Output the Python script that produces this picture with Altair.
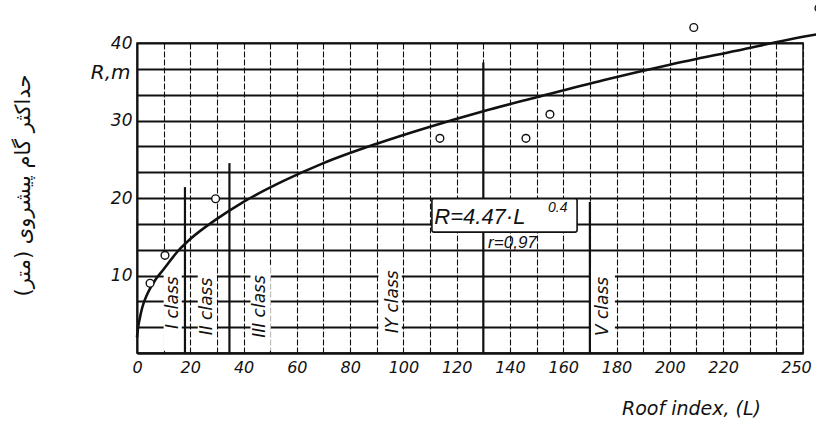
import altair as alt
import pandas as pd

# ---- data ----
curve_L = [0, 0.3, 1, 2, 4, 7, 10, 15, 20, 30, 40, 55, 70, 90, 110, 130, 150, 175, 200, 225, 250, 260]
curve_R = [2.0, 3.0, 4.4, 5.9, 7.7, 9.5, 10.8, 13.0, 14.7, 17.3, 19.5, 22.2, 24.5, 27.0, 29.2, 31.2, 33.0, 35.2, 37.2, 39.0, 40.8, 41.4]

obs_L = [4.9, 10.5, 29.5, 113.7, 146, 155, 209, 256]
obs_R = [9.0, 12.6, 19.9, 27.7, 27.7, 30.8, 42.0, 44.5]

class_line_L = [18, 34.7, 130, 170]
class_line_top = [21.4, 24.5, 37.5, 19.5]

class_names = ["I class", "II class", "III class", "IY class", "V class"]
class_label_L = [13.6, 26.3, 46.2, 96.0, 175.0]
class_label_R = [6.5, 6.0, 6.0, 6.6, 6.0]
class_gap_L1 = [10.0, 22.8, 42.6, 90.6, 170.4]
class_gap_L2 = [16.8, 30.0, 50.2, 99.4, 179.4]
class_gap_R2 = [12.2, 11.4, 11.4, 12.3, 11.0]

x_label_values = [0, 20, 40, 60, 80, 100, 120, 140, 160, 180, 200, 220, 250]
x_grid_values = list(range(0, 251, 10))
y_grid_values = [i * 10 / 3 for i in range(13)]

FONT = "DejaVu Sans"
INK = "#111111"
X_TITLE = "Roof index, (L)"
Y_TITLE = "حداکثر گام پیشروی (متر)"

xs = alt.Scale(domain=[0, 250], nice=False, zero=False)
ys = alt.Scale(domain=[0, 40], nice=False, zero=False)

label_list = "[" + ",".join(str(v) for v in x_label_values) + "]"

x_axis = alt.Axis(
    values=x_grid_values, grid=True, gridColor=INK, gridWidth=1.1, gridDash=[6, 2],
    ticks=False, domainColor=INK, domainWidth=2,
    labelExpr=f"indexof({label_list}, datum.value) >= 0 ? datum.label : ''",
    labelFont=FONT, labelFontStyle="italic", labelFontSize=16, labelColor=INK, labelPadding=6,
    labelOffset={"condition": {"test": "datum.value == 250", "value": -7}, "value": 0},
    labelFlush=False, labelOverlap=False,
    title=X_TITLE, titleFont=FONT, titleFontStyle="italic", titleFontWeight="normal",
    titleFontSize=19, titleColor=INK, titleX=554, titleY=55, titleAlign="center", titleBaseline="middle",
)
y_axis = alt.Axis(
    values=y_grid_values, grid=True, gridColor=INK, gridWidth=1.8,
    ticks=False, domainColor=INK, domainWidth=2,
    labelExpr="datum.value > 0 && abs(datum.value - 10*round(datum.value/10)) < 0.01 ? format(datum.value, '.0f') : ''",
    labelFont=FONT, labelFontStyle="italic", labelFontSize=17, labelColor=INK, labelPadding=5,
    labelFlush=False, labelOverlap=False,
    title=Y_TITLE, titleFont=FONT, titleFontWeight="normal", titleFontSize=21,
    titleColor=INK, titleX=-114, titleY=142, titleAngle=270, titleAlign="center", titleBaseline="middle",
)


def X(field):
    return alt.X(field, scale=xs, axis=x_axis, title=X_TITLE)


def Y(field):
    return alt.Y(field, scale=ys, axis=y_axis, title=Y_TITLE)


curve_df = pd.DataFrame({"L": curve_L, "R": curve_R})
obs_df = pd.DataFrame({"L": obs_L, "R": obs_R})
cls_df = pd.DataFrame({"L": class_line_L, "top": class_line_top, "bottom": [0] * len(class_line_L)})
lab_df = pd.DataFrame({
    "name": class_names, "L": class_label_L, "R": class_label_R,
    "g1": class_gap_L1, "g2": class_gap_L2, "r1": [0.3] * 5, "r2": class_gap_R2,
})

gaps = alt.Chart(lab_df).mark_rect(fill="white", strokeWidth=0).encode(
    x=X("g1:Q"), x2="g2:Q", y=Y("r1:Q"), y2="r2:Q",
)

class_lines = alt.Chart(cls_df).mark_rule(color=INK, strokeWidth=2.2).encode(
    x=X("L:Q"), y=Y("bottom:Q"), y2="top:Q",
)

class_text = alt.Chart(lab_df).mark_text(
    angle=270, font=FONT, fontStyle="italic", fontSize=17, color=INK, align="center", baseline="middle"
).encode(
    x=X("L:Q"), y=Y("R:Q"), text="name:N"
)

box_df = pd.DataFrame({"L1": [110.7], "L2": [165.2], "R1": [15.6], "R2": [19.9]})
box = alt.Chart(box_df).mark_rect(fill="white", stroke=INK, strokeWidth=1.6, cornerRadius=2).encode(
    x=X("L1:Q"), x2="L2:Q", y=Y("R1:Q"), y2="R2:Q",
)

ann_df = pd.DataFrame({
    "L": [111.6, 154.3, 131.8, -2.4],
    "R": [17.6, 18.7, 14.2, 36.1],
    "t": ["R=4.47·L", "0.4", "r=0,97", "R,m"],
    "s": [22, 14, 17, 20],
})
ann_left = alt.Chart(ann_df.iloc[:3]).mark_text(
    font="Liberation Sans", fontStyle="italic", color=INK, align="left", baseline="middle"
).encode(
    x=X("L:Q"), y=Y("R:Q"), text="t:N",
    size=alt.Size("s:Q", scale=None, legend=None),
)
ann_rm = alt.Chart(ann_df.iloc[3:]).mark_text(
    font=FONT, fontStyle="italic", color=INK, align="right", baseline="middle"
).encode(
    x=X("L:Q"), y=Y("R:Q"), text="t:N",
    size=alt.Size("s:Q", scale=None, legend=None),
)

curve = alt.Chart(curve_df).mark_line(color=INK, strokeWidth=2.6, interpolate="monotone").encode(
    x=X("L:Q"), y=Y("R:Q"),
)

points = alt.Chart(obs_df).mark_point(
    shape="circle", size=60, filled=True, fill="white", stroke=INK, strokeWidth=1.4, opacity=1
).encode(
    x=X("L:Q"), y=Y("R:Q"),
)

chart = alt.layer(
    gaps, class_lines, box, curve, points, class_text, ann_left, ann_rm
).properties(
    width=666, height=310,
    padding={"left": 137, "top": 43, "right": 13, "bottom": 79},
    autosize=alt.AutoSizeParams(type="none"),
    background="white",
).configure_view(stroke=INK, strokeWidth=1.5)

chart.save("out.html", embed_options={"renderer": "svg", "actions": False})
